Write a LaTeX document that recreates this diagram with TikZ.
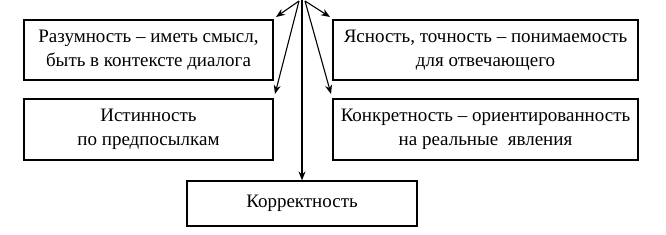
\documentclass[tikz,border=0pt]{standalone}
\usepackage{fontspec}
\setmainfont{Liberation Serif}
\usetikzlibrary{arrows.meta}
\begin{document}
\begin{tikzpicture}[x=1pt,y=-1pt,
  box/.style={draw,line width=1.2pt,inner sep=0pt,align=center,font=\fontsize{19}{24}\selectfont\rmfamily},
  arr/.style={line width=1.1pt,-{Stealth[length=9pt,width=7pt]}}]
\useasboundingbox (0,0) rectangle (666,235);
\node[box,minimum width=249pt,minimum height=60pt] (tl) at (148.5,50) {Разумность – иметь смысл,\\быть в контексте диалога};
\node[box,minimum width=305pt,minimum height=60pt] (tr) at (485.5,50) {Ясность, точность – понимаемость\\для отвечающего};
\node[box,minimum width=249pt,minimum height=61pt] (ml) at (148.5,129.5) {Истинность\\по предпосылкам};
\node[box,minimum width=305pt,minimum height=61pt] (mr) at (485.5,129.5) {Конкретность – ориентированность\\на реальные \ явления};
\node[box,minimum width=230pt,minimum height=45pt] (bt) at (302,203.5) {Корректность};
\coordinate (srcl) at (299,1);
\coordinate (srcm) at (302,-2);
\coordinate (srcr) at (305,1);
\coordinate (etl) at (276,17);
\coordinate (etr) at (330,17);
\coordinate (eml) at (275,94);
\coordinate (emr) at (331,94);
\draw[arr] (srcl) -- (etl);
\draw[arr] (srcr) -- (etr);
\draw[arr] (srcl) -- (eml);
\draw[arr] (srcr) -- (emr);
\draw[arr] (srcm) -- (bt.north);
\end{tikzpicture}
\end{document}
